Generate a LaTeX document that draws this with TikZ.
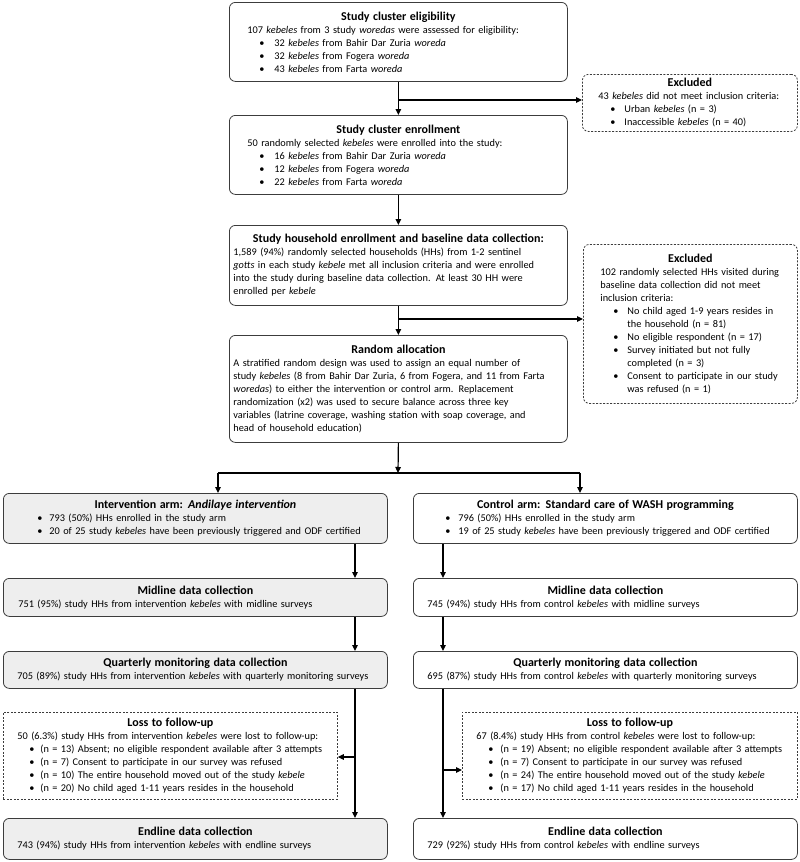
\documentclass[tikz,border=0pt]{standalone}
\usepackage{fontspec}
\setmainfont{Carlito}
\usetikzlibrary{arrows.meta}
\definecolor{bordc}{RGB}{60,60,60}
\definecolor{greyfill}{RGB}{238,238,238}
\newcommand\fsz{\fontsize{10.3pt}{13pt}\selectfont}
\newcommand\oneline[1]{\mbox{#1}}
\newcommand\bi[2]{\hspace*{#1}\makebox[#2][l]{\textbullet}}
\newcommand\ttl[1]{\makebox[\linewidth]{\fontsize{12pt}{13pt}\selectfont\bfseries #1}}
\begin{document}
\begin{tikzpicture}[x=1pt,y=-1pt,
  box/.style={draw=bordc, line width=0.8pt, rounded corners=6pt, inner xsep=4pt, inner ysep=0pt, align=left, font=\fsz, anchor=north west},
  grey/.style={fill=greyfill},
  dbox/.style={box, dash pattern=on 2pt off 1.5pt},
  sqbox/.style={dbox, rounded corners=0pt},
  arr/.style={-{Triangle[length=6pt,width=5.5pt]}, line width=1.2pt, draw=black},
  plain/.style={line width=1.2pt, draw=black}]
\path[use as bounding box] (0,0) rectangle (800,862);

% top column
\node[box, text width=330pt, minimum height=79pt] (elig) at (229,2) {%
\ttl{Study cluster eligibility}\\
\oneline{\hspace*{14pt}107 \emph{kebeles} from 3 study \emph{woredas} were assessed for eligibility:}\\
\oneline{\bi{26pt}{15pt}32 \emph{kebeles} from Bahir Dar Zuria \emph{woreda}}\\
\oneline{\bi{26pt}{15pt}32 \emph{kebeles} from Fogera \emph{woreda}}\\
\oneline{\bi{26pt}{15pt}43 \emph{kebeles} from Farta \emph{woreda}}};

\node[dbox, text width=207pt, minimum height=57pt] (excl1) at (582,74) {%
\ttl{Excluded}\\
\oneline{\hspace*{12pt}43 \emph{kebeles} did not meet inclusion criteria:}\\
\oneline{\bi{24pt}{14pt}Urban \emph{kebeles} (n = 3)}\\
\oneline{\bi{24pt}{14pt}Inaccessible \emph{kebeles} (n = 40)}};

\node[box, text width=330pt, minimum height=79pt] (enroll) at (229,115) {%
\ttl{Study cluster enrollment}\\
\oneline{\hspace*{14pt}50 randomly selected \emph{kebeles} were enrolled into the study:}\\
\oneline{\bi{26pt}{15pt}16 \emph{kebeles} from Bahir Dar Zuria \emph{woreda}}\\
\oneline{\bi{26pt}{15pt}12 \emph{kebeles} from Fogera \emph{woreda}}\\
\oneline{\bi{26pt}{15pt}22 \emph{kebeles} from Farta \emph{woreda}}};

\node[box, text width=330pt, minimum height=80pt] (hh) at (229,225) {%
\ttl{Study household enrollment and baseline data collection:}\\
\oneline{1,589 (94\%) randomly selected households (HHs) from 1-2 sentinel}\\
\oneline{\emph{gotts} in each study \emph{kebele} met all inclusion criteria and were enrolled}\\
\oneline{into the study during baseline data collection. At least 30 HH were}\\
\oneline{enrolled per \emph{kebele}}};

\node[dbox, text width=206pt, minimum height=159pt] (excl2) at (583,244) {%
\ttl{Excluded}\\
\oneline{\hspace*{13pt}102 randomly selected HHs visited during}\\
\oneline{\hspace*{13pt}baseline data collection did not meet}\\
\oneline{\hspace*{13pt}inclusion criteria:}\\
\oneline{\bi{26pt}{14pt}No child aged 1-9 years resides in}\\
\oneline{\hspace*{40pt}the household (n = 81)}\\
\oneline{\bi{26pt}{14pt}No eligible respondent (n = 17)}\\
\oneline{\bi{26pt}{14pt}Survey initiated but not fully}\\
\oneline{\hspace*{40pt}completed (n = 3)}\\
\oneline{\bi{26pt}{14pt}Consent to participate in our study}\\
\oneline{\hspace*{40pt}was refused (n = 1)}};

\node[box, text width=330pt, minimum height=107pt] (rand) at (229,335) {%
\ttl{Random allocation}\\
\oneline{A stratified random design was used to assign an equal number of}\\
\oneline{study \emph{kebeles} (8 from Bahir Dar Zuria, 6 from Fogera, and 11 from Farta}\\
\oneline{\emph{woredas}) to either the intervention or control arm. Replacement}\\
\oneline{randomization (x2) was used to secure balance across three key}\\
\oneline{variables (latrine coverage, washing station with soap coverage, and}\\
\oneline{head of household education)}};

% arms
\node[box, grey, text width=376pt, minimum height=50pt] (intv) at (3,493) {%
\ttl{Intervention arm: \emph{Andilaye intervention}}\\
\oneline{\bi{30pt}{12pt}793 (50\%) HHs enrolled in the study arm}\\
\oneline{\bi{30pt}{12pt}20 of 25 study \emph{kebeles} have been previously triggered and ODF certified}};

\node[box, text width=376pt, minimum height=50pt] (ctrl) at (413,493) {%
\ttl{Control arm: Standard care of WASH programming}\\
\oneline{\bi{28pt}{13pt}796 (50\%) HHs enrolled in the study arm}\\
\oneline{\bi{28pt}{13pt}19 of 25 study \emph{kebeles} have been previously triggered and ODF certified}};

\node[box, grey, text width=376pt, minimum height=38pt] (midL) at (3,578) {%
\ttl{Midline data collection}\\
\oneline{\hspace*{11pt}751 (95\%) study HHs from intervention \emph{kebeles} with midline surveys}};

\node[box, text width=376pt, minimum height=38pt] (midR) at (413,578) {%
\ttl{Midline data collection}\\
\oneline{\hspace*{10pt}745 (94\%) study HHs from control \emph{kebeles} with midline surveys}};

\node[box, grey, text width=376pt, minimum height=37pt] (qL) at (3,651) {%
\ttl{Quarterly monitoring data collection}\\
\oneline{\hspace*{10pt}705 (89\%) study HHs from intervention \emph{kebeles} with quarterly monitoring surveys}};

\node[box, text width=376pt, minimum height=37pt] (qR) at (413,651) {%
\ttl{Quarterly monitoring data collection}\\
\oneline{\hspace*{10pt}695 (87\%) study HHs from control \emph{kebeles} with quarterly monitoring surveys}};

\node[sqbox, text width=326pt, minimum height=87pt] (lossL) at (3,712) {%
\ttl{Loss to follow-up}\\
\oneline{\hspace*{10pt}50 (6.3\%) study HHs from intervention \emph{kebeles} were lost to follow-up:}\\
\oneline{\bi{22pt}{11pt}(n = 13) Absent; no eligible respondent available after 3 attempts}\\
\oneline{\bi{22pt}{11pt}(n = 7) Consent to participate in our survey was refused}\\
\oneline{\bi{22pt}{11pt}(n = 10) The entire household moved out of the study \emph{kebele}}\\
\oneline{\bi{22pt}{11pt}(n = 20) No child aged 1-11 years resides in the household}};

\node[sqbox, text width=327pt, minimum height=87pt] (lossR) at (462,712) {%
\ttl{Loss to follow-up}\\
\oneline{\hspace*{10pt}67 (8.4\%) study HHs from control \emph{kebeles} were lost to follow-up:}\\
\oneline{\bi{22pt}{12pt}(n = 19) Absent; no eligible respondent available after 3 attempts}\\
\oneline{\bi{22pt}{12pt}(n = 7) Consent to participate in our survey was refused}\\
\oneline{\bi{22pt}{12pt}(n = 24) The entire household moved out of the study \emph{kebele}}\\
\oneline{\bi{22pt}{12pt}(n = 17) No child aged 1-11 years resides in the household}};

\node[box, grey, text width=376pt, minimum height=41pt] (endL) at (3,818) {%
\ttl{Endline data collection}\\
\oneline{\hspace*{10pt}743 (94\%) study HHs from intervention \emph{kebeles} with endline surveys}};

\node[box, text width=376pt, minimum height=41pt] (endR) at (413,818) {%
\ttl{Endline data collection}\\
\oneline{\hspace*{10pt}729 (92\%) study HHs from control \emph{kebeles} with endline surveys}};

% connectors
\draw[arr] (elig.south) -- (enroll.north);
\coordinate (b1) at (398,100);
\draw[arr] (b1) -- (b1 -| excl1.west);
\draw[arr] (enroll.south) -- (hh.north);
\draw[arr] (hh.south) -- (rand.north);
\coordinate (b2) at (398,319);
\draw[arr] (b2) -- (b2 -| excl2.west);
\coordinate (sp) at (398,473);
\draw[arr] (rand.south) -- (sp);
\coordinate (spL) at (218,473);
\coordinate (spR) at (580,473);
\draw[plain] (spL) -- (spR);
\draw[arr] (spL) -- (spL |- intv.north);
\draw[arr] (spR) -- (spR |- ctrl.north);
\coordinate (xL) at (355,0);
\coordinate (xR) at (443,0);
\draw[arr] (xL |- intv.south) -- (xL |- midL.north);
\draw[arr] (xL |- midL.south) -- (xL |- qL.north);
\draw[arr] (xL |- qL.south) -- (xL |- endL.north);
\draw[arr] (xR |- ctrl.south) -- (xR |- midR.north);
\draw[arr] (xR |- midR.south) -- (xR |- qR.north);
\draw[arr] (xR |- qR.south) -- (xR |- endR.north);
\coordinate (b3) at (355,757);
\draw[arr] (b3) -- (b3 -| lossL.east);
\coordinate (b4) at (443,770);
\draw[arr] (b4) -- (b4 -| lossR.west);
\end{tikzpicture}
\end{document}
